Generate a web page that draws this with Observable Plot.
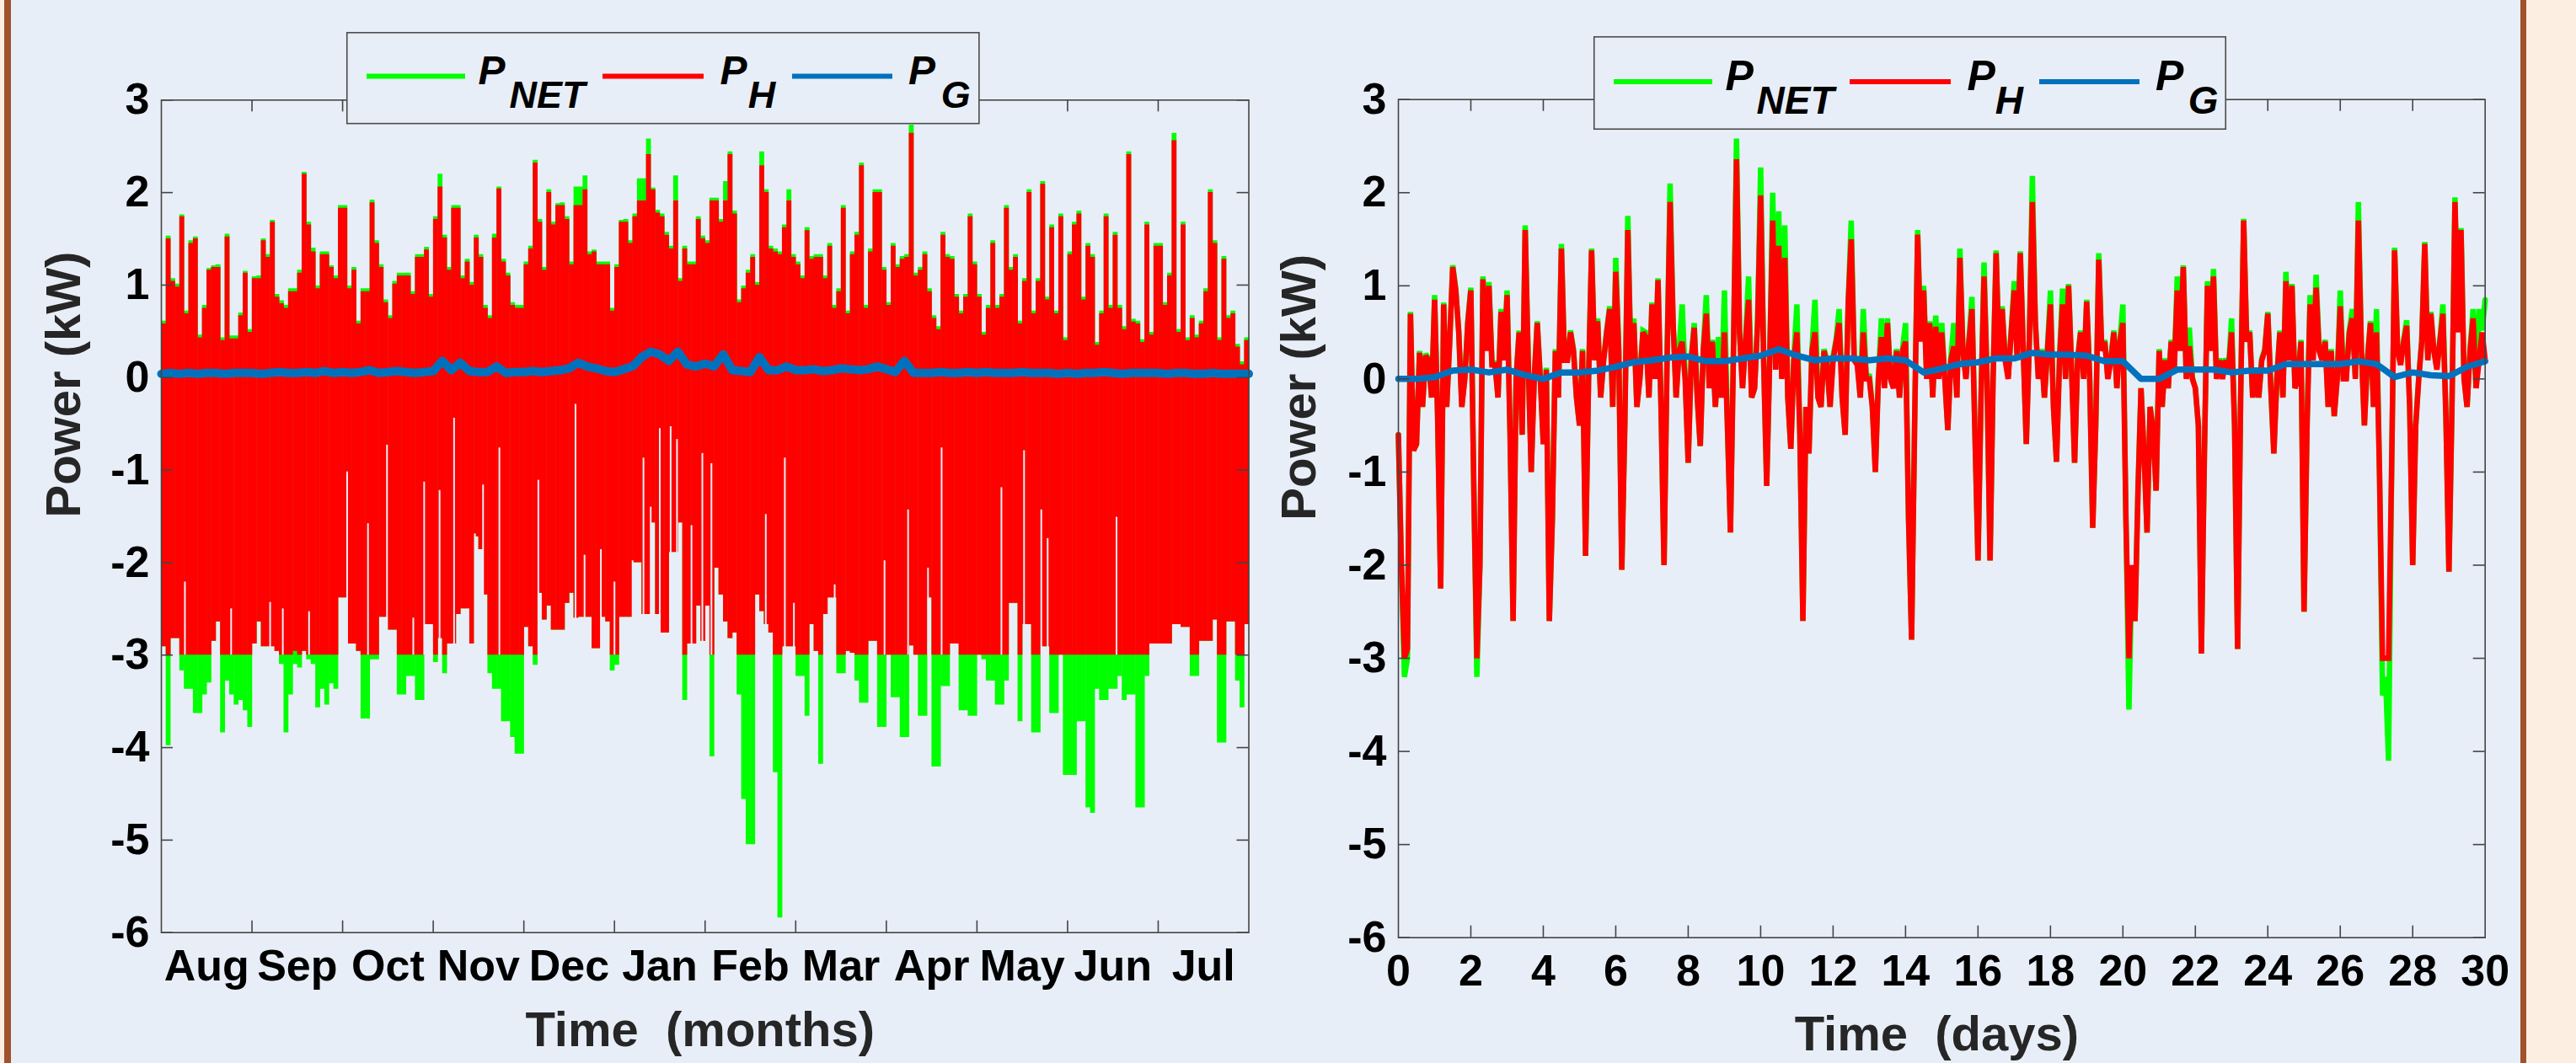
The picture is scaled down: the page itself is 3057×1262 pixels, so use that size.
<!DOCTYPE html>
<html>
<head>
<meta charset="utf-8">
<script src="https://cdn.jsdelivr.net/npm/d3@7"></script>
<script src="https://cdn.jsdelivr.net/npm/@observablehq/plot@0.6"></script>
<style>
  html, body { margin:0; padding:0; background:#FDEEE2; overflow:hidden; }
  #fig { position:relative; width:3057px; height:1262px; background:#FDEEE2; overflow:hidden; }
  #panel { position:absolute; left:5px; top:0; width:2993px; height:1262px; box-sizing:border-box;
           background:#E8EEF7; border-left:8px solid #A0522D; border-right:7px solid #A0522D; }
</style>
</head>
<body>
<div id="fig"><div id="panel"></div></div>
<script>
// ---------------- DATA ----------------
const monthLabels = ["Aug","Sep","Oct","Nov","Dec","Jan","Feb","Mar","Apr","May","Jun","Jul"];
const monthEdges = [1,2,3,4,5,6,7,8,9,10,11];
const colStep = 0.05;           // months per column
const hFloor = -3;              // P_H lower limit

const hMaxL = [
0.58,1.50,1.04,0.98,1.74,0.69,1.45,1.50,0.43,0.75,
1.16,1.19,1.19,0.40,1.52,0.42,0.42,0.67,1.13,0.49,
1.07,1.07,1.48,1.30,1.68,0.87,0.80,0.75,0.93,0.93,
1.13,2.20,1.65,1.36,0.96,1.33,1.33,1.19,1.07,1.83,
1.83,0.96,1.16,0.58,0.93,0.93,1.89,1.45,1.19,0.81,
0.64,1.01,1.10,1.10,1.10,0.90,1.30,1.30,1.38,0.87,
1.71,2.06,1.51,1.16,1.83,1.83,1.07,1.25,1.00,1.51,
1.30,0.75,0.64,1.51,2.04,1.25,1.10,0.78,0.75,0.75,
1.22,1.39,2.32,1.68,1.16,2.00,1.65,1.86,1.86,1.71,
1.22,1.86,1.86,2.03,1.33,1.36,1.22,1.22,1.22,0.72,
1.19,1.68,1.68,1.45,1.74,1.91,1.91,2.41,2.03,1.78,
1.74,1.54,1.39,1.91,1.04,1.39,1.22,1.22,1.71,1.50,
1.45,1.91,1.91,1.68,1.91,2.41,1.77,0.81,0.96,1.13,
1.30,1.00,2.29,2.00,1.39,1.36,1.33,1.62,1.91,1.30,
1.22,1.07,1.59,1.28,1.30,1.30,1.07,1.42,0.75,0.93,
1.83,0.69,1.33,1.54,2.29,0.75,1.36,2.00,2.00,1.16,
0.78,1.42,1.19,1.28,1.30,2.64,1.10,1.16,1.33,0.93,
0.64,0.52,1.54,1.30,1.28,0.87,0.69,0.87,1.74,1.22,
0.87,0.46,0.75,1.45,0.75,0.87,1.83,1.16,1.30,0.58,
1.04,2.00,0.69,1.04,2.09,0.84,1.62,0.69,1.74,0.40,
1.33,1.65,1.77,0.84,1.42,1.30,0.35,0.69,1.74,0.75,
1.54,0.75,0.52,2.41,0.60,0.58,0.38,1.65,0.46,1.42,
1.42,0.78,1.10,2.56,0.49,1.65,0.40,0.64,0.43,0.58,
0.93,2.00,1.45,0.40,1.28,0.64,0.69,0.33,0.14,0.40];

const netMaxL = [
0.61,1.53,1.07,1.01,1.76,0.72,1.48,1.52,0.46,0.78,
1.18,1.21,1.22,0.43,1.55,0.45,0.45,0.70,1.15,0.52,
1.09,1.10,1.50,1.33,1.70,0.90,0.83,0.78,0.96,0.96,
1.16,2.22,1.68,1.40,0.99,1.36,1.36,1.21,1.10,1.86,
1.86,0.99,1.19,0.61,0.96,0.96,1.92,1.48,1.22,0.84,
0.67,1.04,1.13,1.13,1.13,0.93,1.33,1.33,1.41,0.90,
1.74,2.20,1.54,1.19,1.86,1.86,1.10,1.28,1.03,1.54,
1.33,0.78,0.67,1.55,2.06,1.28,1.13,0.81,0.78,0.78,
1.25,1.42,2.35,1.71,1.19,2.03,1.68,1.88,1.89,1.74,
1.25,2.06,2.06,2.18,1.36,1.38,1.25,1.25,1.25,0.75,
1.22,1.70,1.71,1.48,1.77,2.15,2.15,2.58,2.05,1.81,
1.77,1.57,1.42,2.18,1.07,1.42,1.25,1.25,1.74,1.53,
1.48,1.94,1.94,1.71,2.12,2.44,1.80,0.84,0.99,1.16,
1.33,1.03,2.44,2.03,1.42,1.39,1.36,1.65,2.03,1.33,
1.25,1.10,1.62,1.31,1.33,1.33,1.10,1.45,0.78,0.96,
1.86,0.72,1.36,1.57,2.32,0.78,1.39,2.03,2.03,1.19,
0.81,1.45,1.22,1.31,1.33,2.73,1.13,1.19,1.36,0.96,
0.67,0.55,1.57,1.33,1.31,0.90,0.72,0.90,1.77,1.25,
0.90,0.49,0.78,1.48,0.78,0.90,1.86,1.19,1.33,0.61,
1.07,2.03,0.72,1.07,2.12,0.87,1.65,0.72,1.77,0.43,
1.36,1.68,1.80,0.87,1.45,1.33,0.38,0.72,1.77,0.78,
1.57,0.78,0.55,2.44,0.63,0.61,0.41,1.68,0.49,1.45,
1.45,0.81,1.13,2.64,0.52,1.68,0.43,0.67,0.46,0.61,
0.96,2.03,1.48,0.43,1.31,0.67,0.72,0.36,0.17,0.43];

const hMinL = [
-2.91,-3,-2.82,-2.82,-3,-3,-3,-3,-3,-3,
-3,-2.85,-2.64,-3,-3,-3,-3,-3,-3,-3,
-2.88,-2.64,-2.91,-2.91,-2.91,-2.96,-3,-3,-3,-2.96,
-3,-2.96,-3,-3,-3,-3,-3,-3,-3,-2.38,
-2.38,-2.88,-2.88,-2.96,-3,-3,-3,-3,-2.59,-2.59,
-2.73,-2.73,-3,-3,-3,-3,-3,-3,-2.67,-2.67,
-3,-2.82,-3,-2.88,-2.88,-2.56,-2.5,-2.5,-2.88,-1.72,
-1.86,-2.35,-3,-3,-3,-3,-3,-3,-3,-3,
-2.70,-2.91,-3,-2.33,-2.62,-2.47,-2.73,-2.73,-2.73,-2.44,
-2.33,-2.6,-2.59,-2.59,-2.59,-2.93,-2.93,-2.59,-2.64,-3,
-3,-2.59,-2.59,-2.59,-2.0,-2.0,-2.56,-2.56,-1.57,-2.56,
-2.76,-2.76,-1.89,-1.89,-1.57,-3,-2.88,-2.88,-2.47,-2.85,
-2.47,-3,-2.06,-2.35,-2.64,-2.82,-2.76,-3,-3,-3,
-3,-2.35,-2.53,-2.67,-2.76,-3,-3,-2.91,-2.91,-2.91,
-3,-3,-3,-2.67,-2.96,-3,-2.56,-2.38,-2.38,-3,
-3,-2.96,-2.98,-3,-3,-3,-2.85,-2.85,-3,-3,
-3,-3,-3,-3,-3,-2.9,-3,-3,-3,-2.38,
-3,-3,-3,-3,-2.88,-2.88,-3,-3,-3,-3,
-3,-3,-3,-3,-3,-3,-3,-2.44,-2.44,-3,
-2.67,-2.67,-3,-3,-2.91,-2.91,-3,-3,-3,-3,
-3,-3,-3,-3,-3,-3,-3,-3,-3,-3,
-3,-3,-3,-3,-3,-3,-3,-3,-2.88,-2.88,
-2.88,-2.88,-2.88,-2.67,-2.67,-2.70,-2.70,-3,-3,-2.85,
-2.85,-2.85,-2.62,-3,-3,-2.64,-2.64,-3,-3,-2.67];

const netMinL = [
-2.91,-3.98,-2.82,-2.82,-3.17,-3.37,-3.37,-3.63,-3.63,-3.43,
-3.3,-2.85,-2.64,-3.84,-3.28,-3.43,-3.54,-3.49,-3.6,-3.78,
-2.88,-2.64,-2.91,-2.91,-2.91,-2.96,-3.1,-3.84,-3.43,-3.1,
-3.14,-2.96,-3.05,-3.1,-3.57,-3.37,-3.54,-3.31,-3.37,-2.38,
-2.38,-2.88,-2.88,-2.96,-3.69,-3.69,-3.05,-3.05,-2.59,-2.59,
-2.73,-2.73,-3.43,-3.43,-3.23,-3.23,-3.49,-3.49,-2.67,-2.67,
-3.08,-2.82,-3.2,-2.88,-2.88,-2.56,-2.5,-2.5,-2.88,-1.72,
-1.86,-2.35,-3.2,-3.37,-3.37,-3.72,-3.72,-3.89,-4.07,-4.07,
-2.70,-2.91,-3.11,-2.33,-2.62,-2.47,-2.73,-2.73,-2.73,-2.44,
-2.33,-2.6,-2.59,-2.59,-2.59,-2.93,-2.93,-2.59,-2.64,-3.17,
-3.11,-2.59,-2.59,-2.59,-2.0,-2.0,-2.56,-2.56,-1.57,-2.56,
-2.76,-2.76,-1.89,-1.89,-1.57,-3.49,-2.88,-2.88,-2.47,-2.85,
-2.47,-4.1,-2.06,-2.35,-2.64,-2.82,-2.76,-3.43,-4.56,-5.05,
-5.05,-2.35,-2.53,-2.67,-2.76,-4.27,-5.84,-2.91,-2.91,-2.91,
-3.23,-3.23,-3.66,-2.67,-2.96,-4.18,-2.56,-2.38,-2.38,-3.2,
-3.2,-2.96,-2.98,-3.28,-3.52,-3.52,-2.85,-2.85,-3.78,-3.78,
-3.0,-3.46,-3.46,-3.89,-3.89,-2.9,-3.0,-3.66,-3.66,-2.38,
-4.21,-4.21,-3.34,-3.34,-2.88,-2.88,-3.6,-3.6,-3.66,-3.66,
-3.0,-3.05,-3.28,-3.28,-3.54,-3.54,-3.28,-2.44,-2.44,-3.72,
-2.67,-2.67,-3.84,-3.84,-2.91,-2.91,-3.63,-3.63,-3.0,-4.3,
-4.3,-4.3,-3.72,-3.72,-4.65,-4.71,-3.37,-3.49,-3.49,-3.37,
-3.37,-3.23,-3.49,-3.43,-3.43,-4.65,-4.65,-3.23,-2.88,-2.88,
-2.88,-2.88,-2.88,-2.67,-2.67,-2.70,-2.70,-3.23,-3.23,-2.85,
-2.85,-2.85,-2.62,-3.95,-3.95,-2.64,-2.64,-3.28,-3.57,-2.67];

const gapMonth = [0.26,0.77,1.20,1.34,1.63,2.05,2.28,2.49,2.78,2.90,3.07,3.23,3.46,3.55,3.73,
  4.16,4.57,4.67,4.85,5.00,5.20,5.32,5.40,5.50,5.62,5.69,5.85,5.97,6.07,6.67,6.88,6.98,7.43,
  7.98,8.24,8.46,8.61,9.27,9.52,9.71,9.78,10.54];
const gapTop = [-2.21,-2.5,-2.43,-2.5,-2.53,-1.02,-1.58,-0.73,-2.6,-1.13,-1.22,-0.44,-1.69,-1.16,-0.76,
  -1.11,-0.29,-1.92,-1.86,-2.21,-1.98,-0.87,-1.40,-0.55,-0.53,-0.67,-1.60,-0.82,-0.93,-1.48,-0.87,-2.44,-2.24,
  -1.98,-1.43,-2.06,-0.76,-1.19,-0.79,-1.43,-1.74,-1.51];

const pgStepL = 0.1;
const pgL = [
0.04,0.05,0.04,0.05,0.04,0.05,0.05,0.04,0.05,0.05,
0.05,0.04,0.05,0.06,0.05,0.05,0.06,0.05,0.07,0.05,
0.06,0.05,0.06,0.08,0.05,0.06,0.07,0.06,0.05,0.06,
0.07,0.18,0.08,0.16,0.07,0.06,0.06,0.12,0.05,0.06,
0.06,0.07,0.06,0.07,0.08,0.10,0.16,0.12,0.10,0.07,
0.06,0.09,0.12,0.22,0.28,0.25,0.18,0.28,0.14,0.12,
0.15,0.12,0.25,0.08,0.07,0.06,0.22,0.08,0.08,0.12,
0.08,0.08,0.09,0.07,0.08,0.10,0.09,0.08,0.09,0.12,
0.09,0.06,0.18,0.05,0.05,0.05,0.06,0.05,0.05,0.06,
0.05,0.06,0.05,0.05,0.05,0.06,0.05,0.05,0.05,0.04,
0.05,0.04,0.05,0.05,0.06,0.05,0.04,0.05,0.05,0.05,
0.05,0.04,0.05,0.05,0.04,0.04,0.05,0.04,0.04,0.04,0.04];

// Right panel: 30 days, one value every 2 hours
const dayTicks = [0,2,4,6,8,10,12,14,16,18,20,22,24,26,28,30];
const rStep = 1/12;   // days
const rH = [
-0.6,-2.0,-3.0,-2.9,0.7,-0.77,-0.7,0.28,-0.3,0.25,
0.2,-0.2,0.85,-0.4,-2.25,0.8,-0.3,0.4,1.2,0.95,
0.5,-0.3,0.0,0.6,0.95,-1.2,-3.0,-2.0,1.07,0.3,
1.0,0.15,0.15,-0.2,0.72,0.2,0.9,-0.6,-2.6,0.0,
0.5,-0.6,1.6,0.2,-1.0,0.0,0.6,0.0,-0.7,0.1,
-2.6,-1.5,0.3,-0.2,1.4,0.2,0.2,0.5,0.3,-0.2,
-0.5,0.3,-1.9,0.0,1.38,0.2,0.62,-0.2,0.2,0.5,
0.75,-0.3,1.15,0.3,-2.05,-0.5,1.6,0.2,0.6,-0.3,
0.0,0.5,0.45,-0.2,0.8,0.0,1.06,-0.3,-2.0,0.2,
1.9,0.6,-0.2,0.3,0.4,0.0,-0.9,0.2,0.55,-0.2,
-0.72,0.3,0.7,-0.1,0.4,-0.3,0.2,-0.2,0.5,-0.5,
-1.65,0.3,2.36,0.5,-0.1,0.4,0.85,-0.2,-0.1,0.6,
1.97,0.2,-1.15,0.2,1.7,0.1,1.43,0.0,1.3,-0.2,
-0.75,0.2,0.5,-0.6,-2.6,-0.3,-0.8,0.3,0.5,-0.2,
-0.3,0.3,0.15,-0.3,0.2,0.4,0.6,-0.2,-0.6,0.8,
1.5,0.2,0.15,-0.2,0.5,0.0,0.0,-0.3,-1.0,0.0,
0.45,-0.1,0.6,0.0,-0.1,0.3,-0.2,0.3,0.4,-1.5,
-2.8,-0.5,1.55,0.4,0.95,0.0,0.6,-0.2,0.56,0.0,
0.5,0.0,-0.55,0.2,0.35,-0.2,1.3,0.3,0.0,0.4,
0.75,-0.6,-1.95,-0.2,1.1,0.0,-1.95,0.0,1.35,0.2,
0.75,0.2,0.0,0.5,0.95,0.2,1.35,0.3,-0.7,0.4,
1.9,0.6,0.0,0.3,-0.2,0.3,0.8,-0.3,-0.89,0.2,
0.8,0.0,1.0,0.1,-0.9,0.2,0.5,0.0,0.83,0.0,
-1.6,-0.5,1.28,0.3,0.4,0.0,0.2,0.5,-0.1,0.4,
0.6,-1.5,-3.0,-2.0,-2.6,-1.2,-0.1,-0.8,-1.65,-0.3,
-0.55,-1.2,0.3,-0.3,0.2,-0.1,0.4,0.1,0.95,0.3,
1.2,0.0,0.35,0.0,-0.1,-0.5,-2.95,-0.8,1.0,0.3,
1.1,0.0,0.2,0.0,0.2,0.1,0.5,-0.5,-2.9,-0.2,
1.7,0.4,0.5,-0.2,0.1,-0.2,0.2,0.3,0.7,-0.1,
-0.8,0.0,0.5,-0.2,1.05,0.2,1.0,-0.1,0.0,0.4,
-2.5,-0.5,0.8,0.2,0.98,0.3,0.2,0.4,-0.3,0.3,
-0.4,0.0,0.78,0.0,0.0,0.5,0.65,0.0,1.7,0.3,
-0.5,0.2,0.6,-0.3,0.5,-1.0,-3.0,-3.0,-3.0,-1.0,
1.38,0.3,0.15,0.4,0.57,-0.3,-2.0,-0.5,0.0,0.4,
1.45,0.2,0.7,0.3,0.1,0.4,0.7,-0.4,-2.07,-0.3,
1.9,0.5,1.6,0.0,-0.3,0.3,0.65,-0.1,0.2,0.5,
0.2];
const rNet = [
-0.6,-2.0,-3.2,-3.0,0.72,-0.77,-0.7,0.3,-0.3,0.27,
0.22,-0.2,0.9,-0.4,-2.25,0.82,-0.3,0.42,1.22,0.97,
0.5,-0.3,0.02,0.62,0.98,-1.2,-3.2,-2.0,1.1,0.32,
1.04,0.17,0.17,-0.2,0.75,0.22,0.95,-0.6,-2.6,0.02,
0.52,-0.6,1.65,0.22,-1.0,0.02,0.62,0.02,-0.7,0.12,
-2.6,-1.5,0.32,-0.2,1.45,0.22,0.22,0.52,0.32,-0.2,
-0.5,0.32,-1.9,0.02,1.4,0.22,0.65,-0.2,0.22,0.52,
0.78,-0.3,1.3,0.32,-2.05,-0.5,1.75,0.22,0.65,-0.3,
0.02,0.52,0.5,-0.2,0.82,0.02,1.08,-0.3,-2.0,0.22,
2.1,0.62,-0.2,0.32,0.8,0.02,-0.9,0.22,0.6,-0.2,
-0.72,0.32,0.9,-0.1,0.42,-0.3,0.45,-0.2,0.95,-0.5,
-1.65,0.32,2.58,0.52,-0.1,0.42,1.1,-0.2,-0.1,0.62,
2.27,0.22,-1.15,0.22,2.0,0.12,1.8,0.02,1.65,-0.2,
-0.75,0.22,0.8,-0.6,-2.6,-0.3,-0.8,0.32,0.85,-0.2,
-0.3,0.32,0.2,-0.3,0.25,0.42,0.75,-0.2,-0.6,0.82,
1.7,0.22,0.2,-0.2,0.75,0.02,0.05,-0.3,-1.0,0.02,
0.65,-0.1,0.65,0.02,-0.05,0.32,-0.2,0.32,0.6,-1.5,
-2.8,-0.5,1.6,0.42,1.0,0.02,0.62,-0.2,0.68,0.02,
0.6,0.02,-0.55,0.22,0.6,-0.2,1.4,0.32,0.02,0.42,
0.88,-0.6,-1.95,-0.2,1.25,0.02,-1.95,0.02,1.38,0.22,
0.78,0.22,0.02,0.52,1.05,0.22,1.37,0.32,-0.7,0.42,
2.18,0.62,0.02,0.32,-0.2,0.32,0.95,-0.3,-0.89,0.22,
0.97,0.02,1.02,0.12,-0.9,0.22,0.52,0.02,0.85,0.02,
-1.6,-0.5,1.35,0.32,0.42,0.02,0.22,0.52,-0.1,0.42,
0.8,-1.5,-3.55,-2.0,-2.6,-1.2,-0.1,-0.8,-1.65,-0.3,
-0.55,-1.2,0.32,-0.3,0.22,-0.1,0.42,0.12,1.1,0.32,
1.22,0.02,0.55,0.02,-0.1,-0.5,-2.95,-0.8,1.05,0.32,
1.18,0.02,0.22,0.02,0.22,0.12,0.65,-0.5,-2.9,-0.2,
1.72,0.42,0.52,-0.2,0.12,-0.2,0.22,0.32,0.72,-0.1,
-0.8,0.02,0.52,-0.2,1.15,0.22,1.02,-0.1,0.02,0.42,
-2.5,-0.5,0.9,0.22,1.12,0.32,0.22,0.42,-0.3,0.32,
-0.4,0.02,0.95,0.02,0.02,0.52,0.75,0.02,1.9,0.32,
-0.5,0.22,0.62,-0.3,0.75,-1.0,-3.4,-3.2,-4.1,-1.0,
1.41,0.32,0.17,0.42,0.63,-0.3,-2.0,-0.5,0.02,0.42,
1.47,0.22,0.72,0.32,0.12,0.42,0.8,-0.4,-2.07,-0.3,
1.95,0.52,1.62,0.02,-0.3,0.32,0.75,-0.1,0.75,0.52,
0.85];
const rPgStep = 0.5; // days
const rPG = [
0.0,0.0,0.02,0.09,0.1,0.07,0.1,0.04,0.0,0.07,
0.07,0.09,0.13,0.18,0.2,0.23,0.24,0.19,0.19,0.22,
0.25,0.32,0.25,0.2,0.22,0.22,0.2,0.22,0.2,0.07,
0.11,0.16,0.18,0.22,0.22,0.28,0.26,0.26,0.25,0.19,
0.19,0.0,0.0,0.1,0.1,0.1,0.07,0.09,0.09,0.16,
0.16,0.16,0.16,0.19,0.16,0.02,0.07,0.04,0.03,0.13,
0.19];

const yTicks = [-6,-5,-4,-3,-2,-1,0,1,2,3];

// ---------------- STYLE ----------------
const GREEN = "#00FF00", RED = "#FF0000", BLUE = "#0072BD";
const BG = "#E8EEF7", AXIS = "#444444", TITLE = "#262626";
const FONT = "'Liberation Sans', Arial, Helvetica, sans-serif";
const TICK = 14;

// ---------------- TABLES ----------------
const leftCols = hMaxL.map((v, i) => ({t: (i + 0.5) * colStep, hMax: v, netMax: netMaxL[i], hMin: hMinL[i], netMin: netMinL[i]}));
const gaps = gapMonth.map((t, i) => ({t, top: gapTop[i]}));
const pgLeft = pgL.map((v, i) => ({t: i * pgStepL, v}));
const rightRows = rH.map((v, i) => ({t: i * rStep, h: v, net: rNet[i]}));
const pgRight = rPG.map((v, i) => ({t: i * rPgStep, v}));
const monthRows = monthLabels.map((m, i) => ({m, c: i + 0.5}));

function axesMarks(frameW, frameH, xEdges, xTickLabels) {
  return [
    Plot.frame({stroke: AXIS, strokeWidth: 1.6}),
    Plot.tickX(xEdges, {x: d => d, stroke: AXIS, strokeWidth: 1.6, insetTop: frameH - TICK}),
    Plot.tickX(xEdges, {x: d => d, stroke: AXIS, strokeWidth: 1.6, insetBottom: frameH - TICK}),
    Plot.tickY(yTicks, {y: d => d, stroke: AXIS, strokeWidth: 1.6, insetRight: frameW - TICK}),
    Plot.tickY(yTicks, {y: d => d, stroke: AXIS, strokeWidth: 1.6, insetLeft: frameW - TICK}),
    Plot.text(yTicks, {y: d => d, text: d => String(d), frameAnchor: "left", dx: -14, textAnchor: "end",
      fontSize: 52, fontWeight: "bold", fill: "#000"}),
    xTickLabels
  ];
}

const svgStyle = {position: "absolute", left: "0px", top: "0px", background: "transparent",
  maxWidth: "none", overflow: "visible", fontFamily: FONT};

// ---------------- LEFT PANEL ----------------
const L = {w: 1530, h: 1262, ml: 191, mr: 48.5, mt: 118.3, mb: 155.3};
const LfW = L.w - L.ml - L.mr, LfH = L.h - L.mt - L.mb;
const left = Plot.plot({
  width: L.w, height: L.h, marginLeft: L.ml, marginRight: L.mr, marginTop: L.mt, marginBottom: L.mb,
  x: {domain: [0, 12], axis: null},
  y: {domain: [-6, 3], axis: null},
  style: svgStyle,
  marks: [
    Plot.ruleX(leftCols, {x: "t", y1: "netMin", y2: "netMax", stroke: GREEN, strokeWidth: 5.8}),
    Plot.ruleX(leftCols, {x: "t", y1: "hMin", y2: "hMax", stroke: RED, strokeWidth: 5.8}),
    Plot.ruleX(gaps, {x: "t", y1: hFloor, y2: "top", stroke: BG, strokeWidth: 2}),
    Plot.line(pgLeft, {x: "t", y: "v", stroke: BLUE, strokeWidth: 10, strokeLinejoin: "round"}),
    ...axesMarks(LfW, LfH, monthEdges,
      Plot.text(monthRows, {x: "c", text: "m", frameAnchor: "bottom", lineAnchor: "top", dy: 20,
        fontSize: 52, fontWeight: "bold", fill: "#000"})),
    Plot.text(["Power (kW)"], {text: d => d, frameAnchor: "left", dx: -114.6, dy: 1.5, rotate: -90,
      fontSize: 58, fontWeight: "bold", fill: TITLE}),
    Plot.text(["Time\u00a0\u00a0(months)"], {text: d => d, frameAnchor: "bottom", dx: -6, dy: 116.7,
      lineAnchor: "middle", fontSize: 58, fontWeight: "bold", fill: TITLE})
  ]
});

// ---------------- RIGHT PANEL ----------------
const R = {w: 3057, h: 1262, ml: 1659, mr: 108.3, mt: 117.7, mb: 149.3};
const RfW = R.w - R.ml - R.mr, RfH = R.h - R.mt - R.mb;
const right = Plot.plot({
  width: R.w, height: R.h, marginLeft: R.ml, marginRight: R.mr, marginTop: R.mt, marginBottom: R.mb,
  x: {domain: [0, 30], axis: null},
  y: {domain: [-6, 3], axis: null},
  style: svgStyle,
  marks: [
    Plot.line(rightRows, {x: "t", y: "net", stroke: GREEN, strokeWidth: 6.5, strokeLinejoin: "miter", strokeMiterlimit: 2}),
    Plot.line(rightRows, {x: "t", y: "h", stroke: RED, strokeWidth: 6.5, strokeLinejoin: "miter", strokeMiterlimit: 2}),
    Plot.line(pgRight, {x: "t", y: "v", stroke: BLUE, strokeWidth: 7.5, strokeLinejoin: "round"}),
    ...axesMarks(RfW, RfH, dayTicks.slice(1, -1),
      Plot.text(dayTicks, {x: d => d, text: d => String(d), frameAnchor: "bottom", lineAnchor: "top", dy: 20,
        fontSize: 52, fontWeight: "bold", fill: "#000"})),
    Plot.text(["Power (kW)"], {text: d => d, frameAnchor: "left", dx: -116.6, dy: 2, rotate: -90,
      fontSize: 58, fontWeight: "bold", fill: TITLE}),
    Plot.text(["Time\u00a0\u00a0(days)"], {text: d => d, frameAnchor: "bottom", dx: -6, dy: 115.4,
      lineAnchor: "middle", fontSize: 58, fontWeight: "bold", fill: TITLE})
  ]
});

const fig = document.getElementById("fig");
fig.appendChild(left);
fig.appendChild(right);

// ---------------- LEGENDS ----------------
const legendItems = [
  {sub: "NET", color: GREEN, x1: 24, x2: 141, px: 156.6, sx: 193.6},
  {sub: "H",   color: RED,   x1: 304, x2: 424, px: 443.6, sx: 476.8},
  {sub: "G",   color: BLUE,  x1: 529, x2: 648, px: 667, sx: 705.7}
];
function addLegend(x0, y0, w, h, lineY, pBase, sBase, pSize, sSize) {
  const ns = "http://www.w3.org/2000/svg";
  const s = document.createElementNS(ns, "svg");
  s.setAttribute("width", w); s.setAttribute("height", h);
  s.style.cssText = `position:absolute;left:${x0}px;top:${y0}px;overflow:visible;`;
  let html = `<rect x="0.75" y="0.75" width="${w - 1.5}" height="${h - 1.5}" fill="${BG}" stroke="#4a4a4a" stroke-width="1.6"/>`;
  for (const it of legendItems) {
    html += `<line x1="${it.x1}" x2="${it.x2}" y1="${lineY}" y2="${lineY}" stroke="${it.color}" stroke-width="6"/>`;
    html += `<text x="${it.px}" y="${pBase}" font-family="${FONT.replace(/'/g, "")}" font-style="italic" font-weight="bold" font-size="${pSize}" fill="#000">P</text>`;
    html += `<text x="${it.sx}" y="${sBase}" font-family="${FONT.replace(/'/g, "")}" font-style="italic" font-weight="bold" font-size="${sSize}" fill="#000">${it.sub}</text>`;
  }
  s.innerHTML = html;
  fig.appendChild(s);
}
addLegend(411, 38.3, 751.6, 109.4, 52.4, 61.7, 89.7, 48, 45);
addLegend(1891, 42.7, 751, 111, 54, 64, 92.3, 50, 46);
</script>
</body>
</html>
